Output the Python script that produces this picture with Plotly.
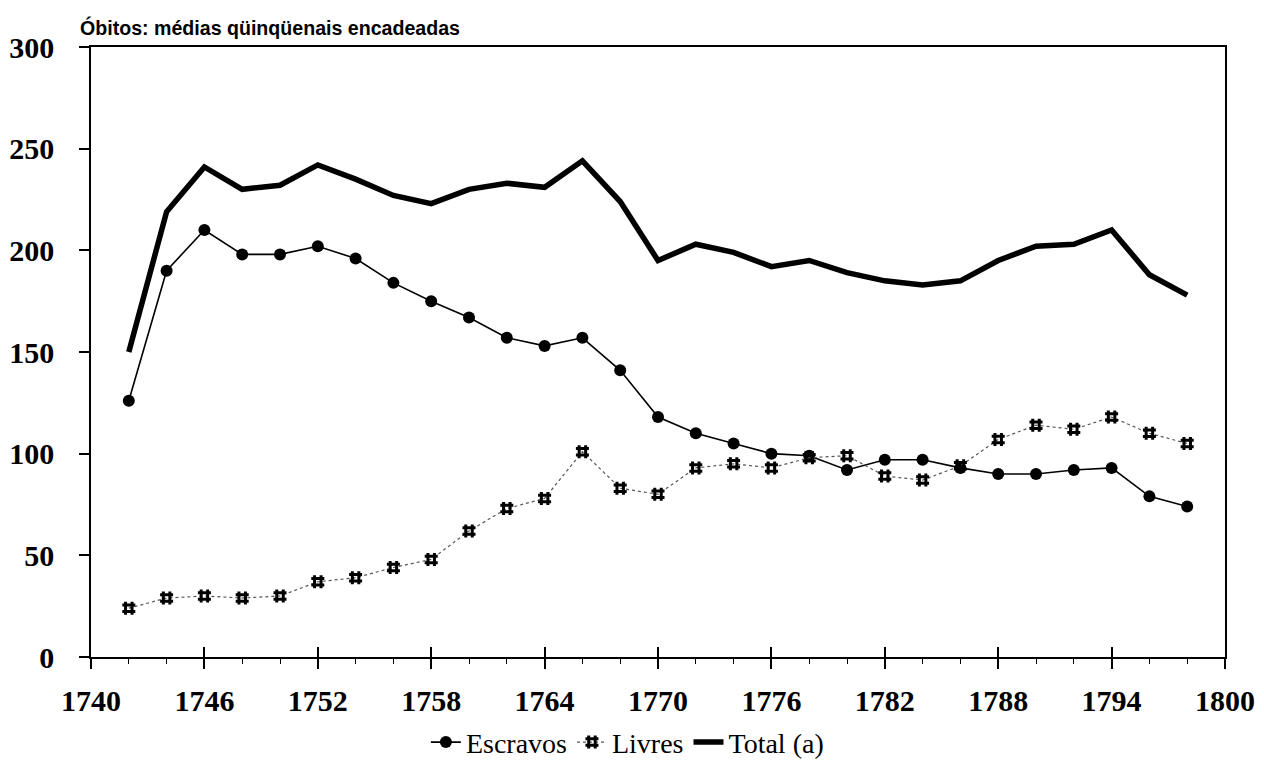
import plotly.graph_objects as go

years = list(range(1742, 1799, 2))
escravos = [126, 190, 210, 198, 198, 202, 196, 184, 175, 167, 157, 153, 157, 141,
            118, 110, 105, 100, 99, 92, 97, 97, 93, 90, 90, 92, 93, 79, 74]
livres = [24, 29, 30, 29, 30, 37, 39, 44, 48, 62, 73, 78, 101, 83,
          80, 93, 95, 93, 98, 99, 89, 87, 94, 107, 114, 112, 118, 110, 105]
total = [150, 219, 241, 230, 232, 242, 235, 227, 223, 230, 233, 231, 244, 224,
         195, 203, 199, 192, 195, 189, 185, 183, 185, 195, 202, 203, 210, 188, 178]

x_ticks = list(range(1740, 1801, 6))
y_ticks = list(range(0, 301, 50))

serif = "Liberation Serif, Times New Roman, serif"

fig = go.Figure()
fig.add_trace(go.Scatter(
    x=years, y=escravos, name="Escravos", mode="lines+markers",
    line=dict(color="black", width=1.6),
    marker=dict(symbol="circle", size=12, color="black"),
))
fig.add_trace(go.Scatter(
    x=years, y=livres, name="Livres", mode="lines+markers",
    line=dict(color="#555555", width=1.2, dash="dot"),
    marker=dict(symbol="hash", size=13, color="black", line=dict(width=3, color="black")),
))
fig.add_trace(go.Scatter(
    x=years, y=total, name="Total (a)", mode="lines",
    line=dict(color="black", width=5.5),
    xaxis="x2",
))

fig.update_layout(
    width=1248, height=761,
    margin=dict(l=83, r=31, t=39, b=112, autoexpand=False),
    paper_bgcolor="white", plot_bgcolor="white",
    showlegend=True,
    legend=dict(orientation="h", x=0.473, xanchor="center", y=-0.14, yanchor="middle",
                bgcolor="rgba(0,0,0,0)",
                font=dict(family=serif, size=28, color="black"),
                itemwidth=30, traceorder="normal"),
    xaxis=dict(range=[1740, 1800], tickvals=x_ticks, ticktext=[str(v) for v in x_ticks],
               automargin=False,
               showgrid=False, zeroline=False, showline=True, linecolor="black", linewidth=1.5,
               mirror=True, ticks="outside", ticklen=10, tickwidth=1.5, tickcolor="black",
               ticklabelstandoff=6,
               minor=dict(dtick=2, tick0=1740, ticks="outside", ticklen=5, tickwidth=1.2, tickcolor="black"),
               tickfont=dict(family=serif, size=30, color="black", weight="bold")),
    xaxis2=dict(range=[1740, 1800], overlaying="x", side="bottom", tickvals=x_ticks,
                automargin=False,
                showticklabels=False, showgrid=False, zeroline=False, showline=False,
                ticks="inside", ticklen=10, tickwidth=1.5, tickcolor="black"),
    yaxis=dict(range=[0, 300], tickvals=y_ticks, showgrid=False, zeroline=False,
               automargin=False,
               showline=True, linecolor="black", linewidth=1.5, mirror=True,
               ticks="outside", ticklen=10, tickwidth=1.5, tickcolor="black",
               ticklabelstandoff=19,
               tickfont=dict(family=serif, size=30, color="black", weight="bold")),
)

fig.add_annotation(
    text="Óbitos: médias qüinqüenais encadeadas", xref="paper", yref="paper",
    x=-0.0115, y=1.0, xanchor="left", yanchor="middle", yshift=20, showarrow=False,
    font=dict(family="Liberation Sans, Arial, sans-serif", size=19.6, color="black", weight="bold"),
)

fig.write_html("out.html")
